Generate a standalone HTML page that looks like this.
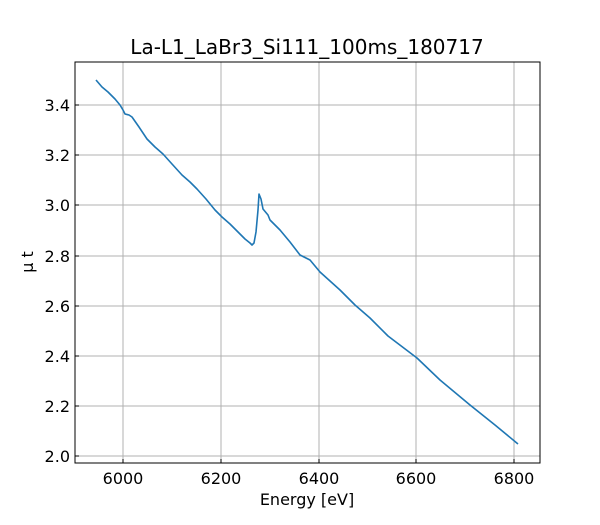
<!DOCTYPE html>
<html><head><meta charset="utf-8"><style>
body{margin:0;background:#fff;}
svg text{font-family:"DejaVu Sans","Liberation Sans",sans-serif;}
</style></head><body>
<svg width="600" height="520" xmlns="http://www.w3.org/2000/svg">
<rect width="600" height="520" fill="#fff"/>
<g stroke="#b0b0b0" stroke-width="1">
<line x1="123" y1="62" x2="123" y2="463"/>
<line x1="221" y1="62" x2="221" y2="463"/>
<line x1="319" y1="62" x2="319" y2="463"/>
<line x1="416" y1="62" x2="416" y2="463"/>
<line x1="514" y1="62" x2="514" y2="463"/>
<line x1="75" y1="105" x2="540" y2="105"/>
<line x1="75" y1="155" x2="540" y2="155"/>
<line x1="75" y1="205" x2="540" y2="205"/>
<line x1="75" y1="256" x2="540" y2="256"/>
<line x1="75" y1="306" x2="540" y2="306"/>
<line x1="75" y1="356" x2="540" y2="356"/>
<line x1="75" y1="406" x2="540" y2="406"/>
<line x1="75" y1="456" x2="540" y2="456"/>
</g>
<g stroke="#000" stroke-width="1">
<line x1="123" y1="463" x2="123" y2="459"/><line x1="221" y1="463" x2="221" y2="459"/><line x1="319" y1="463" x2="319" y2="459"/><line x1="416" y1="463" x2="416" y2="459"/><line x1="514" y1="463" x2="514" y2="459"/>
<line x1="75" y1="105" x2="79" y2="105"/><line x1="75" y1="155" x2="79" y2="155"/><line x1="75" y1="205" x2="79" y2="205"/><line x1="75" y1="256" x2="79" y2="256"/><line x1="75" y1="306" x2="79" y2="306"/><line x1="75" y1="356" x2="79" y2="356"/><line x1="75" y1="406" x2="79" y2="406"/><line x1="75" y1="456" x2="79" y2="456"/>
</g>
<polyline fill="none" stroke="#1f77b4" stroke-width="1.6" stroke-linejoin="round" points="96,80 102,87 108,92 115,99 120,105 123,110 125,114 129,115 132,117 139,127 147,139 155,147 163,154 172,164 182,175 190,182 197,189 206,199 215,210 222,217 230,224 238,232 245,239 250,243 252,245 254,243 256,232 258,210 259,194 261,199 263,209 268,215 270,220 274,224 280,230 290,242 300,255 310,260 320,272 330,281 340,290 355,305 370,318 388,336 417,358 440,380 470,405 495,425 518,444"/>
<rect x="75" y="62" width="465" height="401" fill="none" stroke="#000" stroke-width="1"/>
<g font-size="16" fill="#000" text-anchor="middle" font-family="Liberation Sans, sans-serif">
<text x="123" y="484">6000</text><text x="221" y="484">6200</text><text x="319" y="484">6400</text><text x="416" y="484">6600</text><text x="514" y="484">6800</text>
<text x="307" y="505">Energy [eV]</text>
<text x="307" y="54" font-size="20">La-L1_LaBr3_Si111_100ms_180717</text>
</g>
<g font-size="16" fill="#000" text-anchor="end">
<text x="70" y="111">3.4</text><text x="70" y="161">3.2</text><text x="70" y="211">3.0</text><text x="70" y="262">2.8</text><text x="70" y="312">2.6</text><text x="70" y="362">2.4</text><text x="70" y="412">2.2</text><text x="70" y="462">2.0</text>
</g>
<text x="33" y="262" font-size="16" text-anchor="middle" transform="rotate(-90 33 262)">μ t</text>
</svg>
</body></html>
